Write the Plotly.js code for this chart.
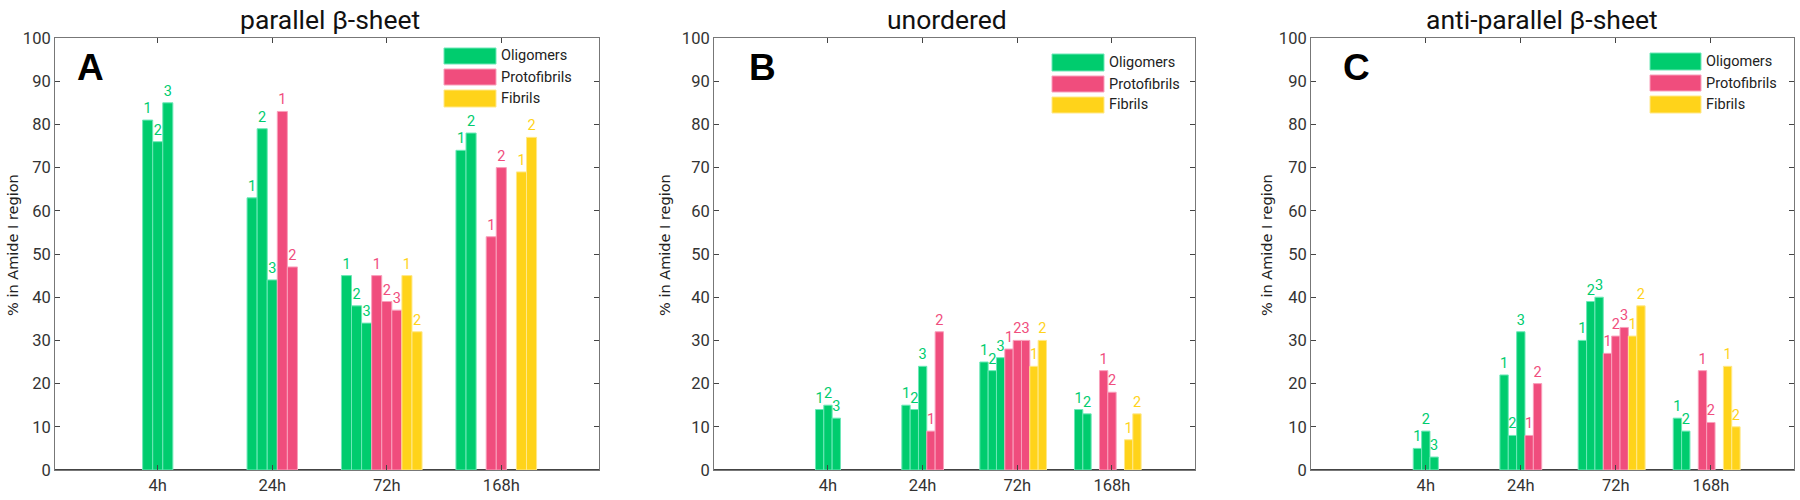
<!DOCTYPE html>
<html>
<head>
<meta charset="utf-8">
<script src="https://cdn.plot.ly/plotly-3.0.1.min.js"></script>
<style>html,body{margin:0;padding:0;background:#fff;}#chart{width:1800px;height:500px;}</style>
</head>
<body>
<div id="chart"></div>
<script>
// ---------- DATA ----------
const timepoints = ['4h', '24h', '72h', '168h'];
const seriesNames = ['Oligomers', 'Protofibrils', 'Fibrils'];
const panelTitles = ['parallel β-sheet', 'unordered', 'anti-parallel β-sheet'];
const panelLetters = ['A', 'B', 'C'];
const yAxisTitle = '% in Amide I region';

// values per timepoint, one entry per replicate (1, 2, 3)
const parallelOligomers    = [[81, 76, 85], [63, 79, 44], [45, 38, 34], [74, 78]];
const parallelProtofibrils = [[], [83, 47], [45, 39, 37], [54, 70]];
const parallelFibrils      = [[], [], [45, 32], [69, 77]];

const unorderedOligomers    = [[14, 15, 12], [15, 14, 24], [25, 23, 26], [14, 13]];
const unorderedProtofibrils = [[], [9, 32], [28, 30, 30], [23, 18]];
const unorderedFibrils      = [[], [], [24, 30], [7, 13]];

const antiOligomers    = [[5, 9, 3], [22, 8, 32], [30, 39, 40], [12, 9]];
const antiProtofibrils = [[], [8, 20], [27, 31, 33], [23, 11]];
const antiFibrils      = [[], [], [31, 38], [24, 10]];

// ---------- LAYOUT CONFIG ----------
const W = 1800, H = 500;
const px = v => v / W;
const py = v => 1 - v / H;
const slotsPerGroup = [3, 5, 9, 9];
const slotW = 0.088;
const colors = ['#00CC6E', '#F04D7D', '#FFD31A'];
const edgeColors = ['#6DE8B8', '#F9A0BC', '#FFE88A'];
const FONT = 'Roboto, "Liberation Sans", Arial, sans-serif';

const panels = [
  { data: [parallelOligomers, parallelProtofibrils, parallelFibrils],
    dom: [55, 599], range: [0.103, 4.853], titleX: 330, letterX: 90, ytX: 13,
    legX: [444, 496], legY: [[48, 64], [69, 85], [90, 107]], legTextX: 499 },
  { data: [unorderedOligomers, unorderedProtofibrils, unorderedFibrils],
    dom: [714, 1195], range: [-0.204, 4.877], titleX: 947, letterX: 762, ytX: 665,
    legX: [1052, 1104], legY: [[54, 71], [76, 92], [97, 113]], legTextX: 1107 },
  { data: [antiOligomers, antiProtofibrils, antiFibrils],
    dom: [1311, 1794], range: [-0.208, 4.875], titleX: 1542, letterX: 1356, ytX: 1267,
    legX: [1650, 1701], legY: [[53, 70], [75, 91], [96, 113]], legTextX: 1704 }
];

const traces = [];
const layout = {
  width: W, height: H,
  margin: { l: 0, r: 0, t: 0, b: 0 },
  paper_bgcolor: '#fff', plot_bgcolor: '#fff',
  showlegend: false,
  barmode: 'overlay',
  font: { family: FONT, color: '#333' },
  annotations: [], shapes: []
};

panels.forEach((p, pi) => {
  const sfx = pi === 0 ? '' : String(pi + 1);
  p.data.forEach((series, si) => {
    const xs = [], ys = [], ts = [];
    series.forEach((reps, gi) => {
      const n = slotsPerGroup[gi];
      reps.forEach((v, ri) => {
        const slot = si * 3 + ri - (n - 1) / 2;
        xs.push(gi + 1 + slot * slotW);
        ys.push(v);
        ts.push(String(ri + 1));
      });
    });
    traces.push({
      type: 'bar', x: xs, y: ys, text: ts, width: slotW,
      xaxis: 'x' + sfx, yaxis: 'y' + sfx,
      textposition: 'outside', constraintext: 'none', cliponaxis: false,
      textfont: { family: FONT, size: 14.5, color: colors[si] },
      marker: { color: colors[si], line: { color: edgeColors[si], width: 1 } },
      hoverinfo: 'x+y', name: seriesNames[si]
    });
  });

  layout['xaxis' + sfx] = {
    domain: [px(p.dom[0]), px(p.dom[1])], range: p.range, anchor: 'y' + sfx,
    tickvals: [1, 2, 3, 4], ticktext: timepoints,
    ticks: 'inside', ticklen: 5, tickcolor: '#444', tickwidth: 1,
    showline: true, linecolor: '#777', linewidth: 1, mirror: 'ticks',
    showgrid: false, zeroline: false,
    tickfont: { family: FONT, size: 16.5, color: '#333' }, fixedrange: true
  };
  layout['yaxis' + sfx] = {
    domain: [py(470), py(38)], range: [0, 100], anchor: 'x' + sfx,
    tickvals: [0, 10, 20, 30, 40, 50, 60, 70, 80, 90, 100],
    ticks: 'inside', ticklen: 5, tickcolor: '#444', tickwidth: 1,
    showline: true, linecolor: '#777', linewidth: 1, mirror: 'ticks',
    showgrid: false, zeroline: true, zerolinecolor: '#444', zerolinewidth: 1.6,
    tickfont: { family: FONT, size: 16.5, color: '#333' }, fixedrange: true
  };

  // panel title
  layout.annotations.push({
    xref: 'paper', yref: 'paper', x: px(p.titleX), y: py(19),
    xanchor: 'center', yanchor: 'middle', showarrow: false,
    text: panelTitles[pi], font: { family: FONT, size: 26.5, color: '#111' }
  });
  // panel letter
  layout.annotations.push({
    xref: 'paper', yref: 'paper', x: px(p.letterX), y: py(67),
    xanchor: 'center', yanchor: 'middle', showarrow: false,
    text: '<b>' + panelLetters[pi] + '</b>', font: { family: '"Liberation Sans", Arial, sans-serif', size: 37, color: '#000' }
  });
  // y-axis title
  layout.annotations.push({
    xref: 'paper', yref: 'paper', x: px(p.ytX), y: py(245),
    xanchor: 'center', yanchor: 'middle', showarrow: false, textangle: -90,
    text: yAxisTitle, font: { family: '"DejaVu Sans", Roboto, sans-serif', size: 14.5, color: '#222' }
  });
  // legend
  seriesNames.forEach((nm, si) => {
    layout.shapes.push({
      type: 'rect', xref: 'paper', yref: 'paper',
      x0: px(p.legX[0]), x1: px(p.legX[1]), y0: py(p.legY[si][1]), y1: py(p.legY[si][0]),
      fillcolor: colors[si], line: { color: edgeColors[si], width: 1 }
    });
    layout.annotations.push({
      xref: 'paper', yref: 'paper', x: px(p.legTextX), y: py((p.legY[si][0] + p.legY[si][1]) / 2),
      xanchor: 'left', yanchor: 'middle', showarrow: false,
      text: nm, font: { family: FONT, size: 14.5, color: '#222' }
    });
  });
});

Plotly.newPlot('chart', traces, layout, { staticPlot: true, displayModeBar: false });
</script>
</body>
</html>
